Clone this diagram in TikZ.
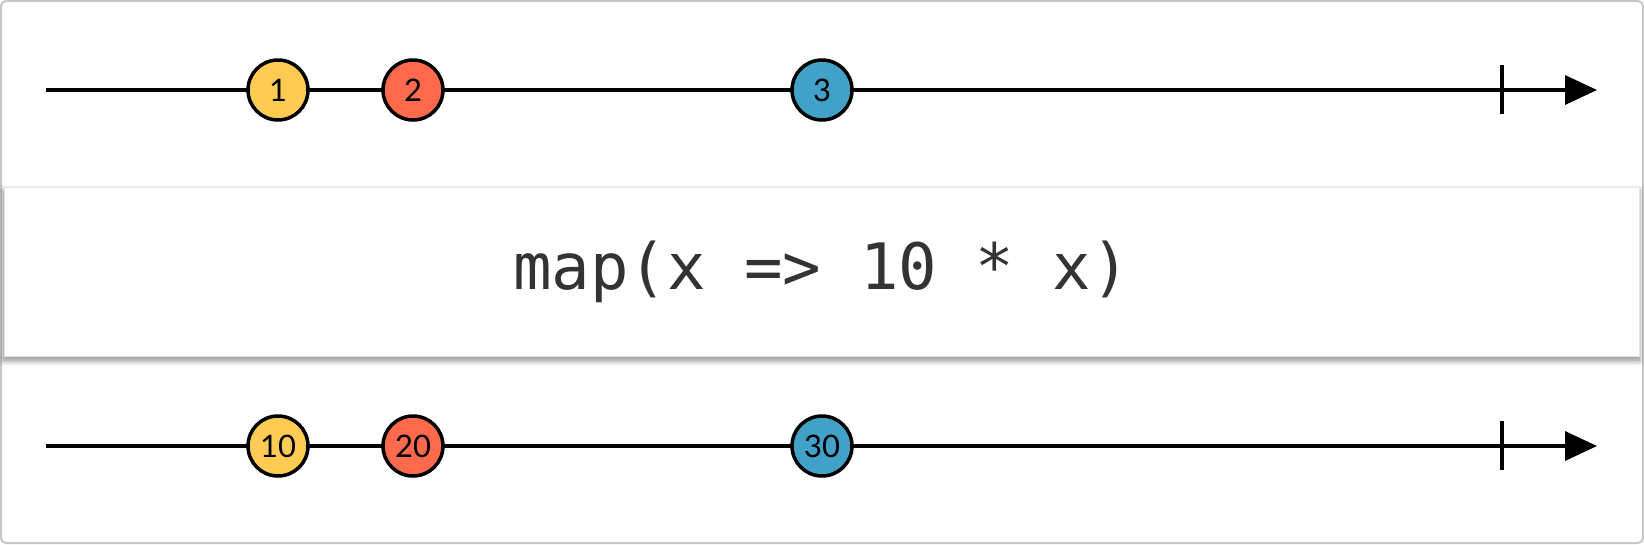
\documentclass[tikz,border=0pt]{standalone}
\usepackage{fontspec}
\setmonofont{DejaVu Sans Mono}
\newfontfamily\marblefont{Lato}
\usetikzlibrary{arrows.meta,shadows.blur}
\definecolor{myellow}{HTML}{FFCB52}
\definecolor{mred}{HTML}{FF6A4D}
\definecolor{mblue}{HTML}{42A1C9}
\definecolor{optext}{HTML}{333333}
\begin{document}
\begin{tikzpicture}[x=1pt,y=-1pt,
  timeline/.style={line width=3.5pt, -{Triangle[length=32pt,width=29pt]}},
  endtick/.style={line width=3.5pt},
  marble/.style={circle, draw=black, line width=3.5pt, minimum size=60pt, inner sep=0pt,
    font=\marblefont\fontsize{31}{31}\selectfont},
  opbox/.style={rectangle, fill=white, draw=black!10, line width=1pt,
    minimum width=1635pt, minimum height=169pt,
    blur shadow={shadow xshift=0pt, shadow yshift=-4pt, shadow blur steps=12, shadow blur radius=6pt, shadow opacity=50},
    font=\ttfamily\fontsize{64}{64}\selectfont, text=optext}
]
\useasboundingbox (0,0) rectangle (1644,544);
\draw[black!22, line width=2pt, rounded corners=5pt] (1,1) rectangle (1643,543);

% top timeline
\coordinate (s1) at (46,90);
\coordinate (e1) at (1597,90);
\coordinate (t1a) at (1502,65);
\coordinate (t1b) at (1502,114);
\draw[timeline] (s1) -- (e1);
\draw[endtick] (t1a) -- (t1b);
\node[marble, fill=myellow] (a1) at (278,90) {1};
\node[marble, fill=mred] (a2) at (413,90) {2};
\node[marble, fill=mblue] (a3) at (822,90) {3};

% operator box
\node[opbox] (op) at (821.5,271.5) {map(x => 10 * x)};

% bottom timeline
\coordinate (s2) at (46,446);
\coordinate (e2) at (1597,446);
\coordinate (t2a) at (1502,421);
\coordinate (t2b) at (1502,470);
\draw[timeline] (s2) -- (e2);
\draw[endtick] (t2a) -- (t2b);
\node[marble, fill=myellow] (b1) at (278,446) {10};
\node[marble, fill=mred] (b2) at (413,446) {20};
\node[marble, fill=mblue] (b3) at (822,446) {30};
\end{tikzpicture}
\end{document}
